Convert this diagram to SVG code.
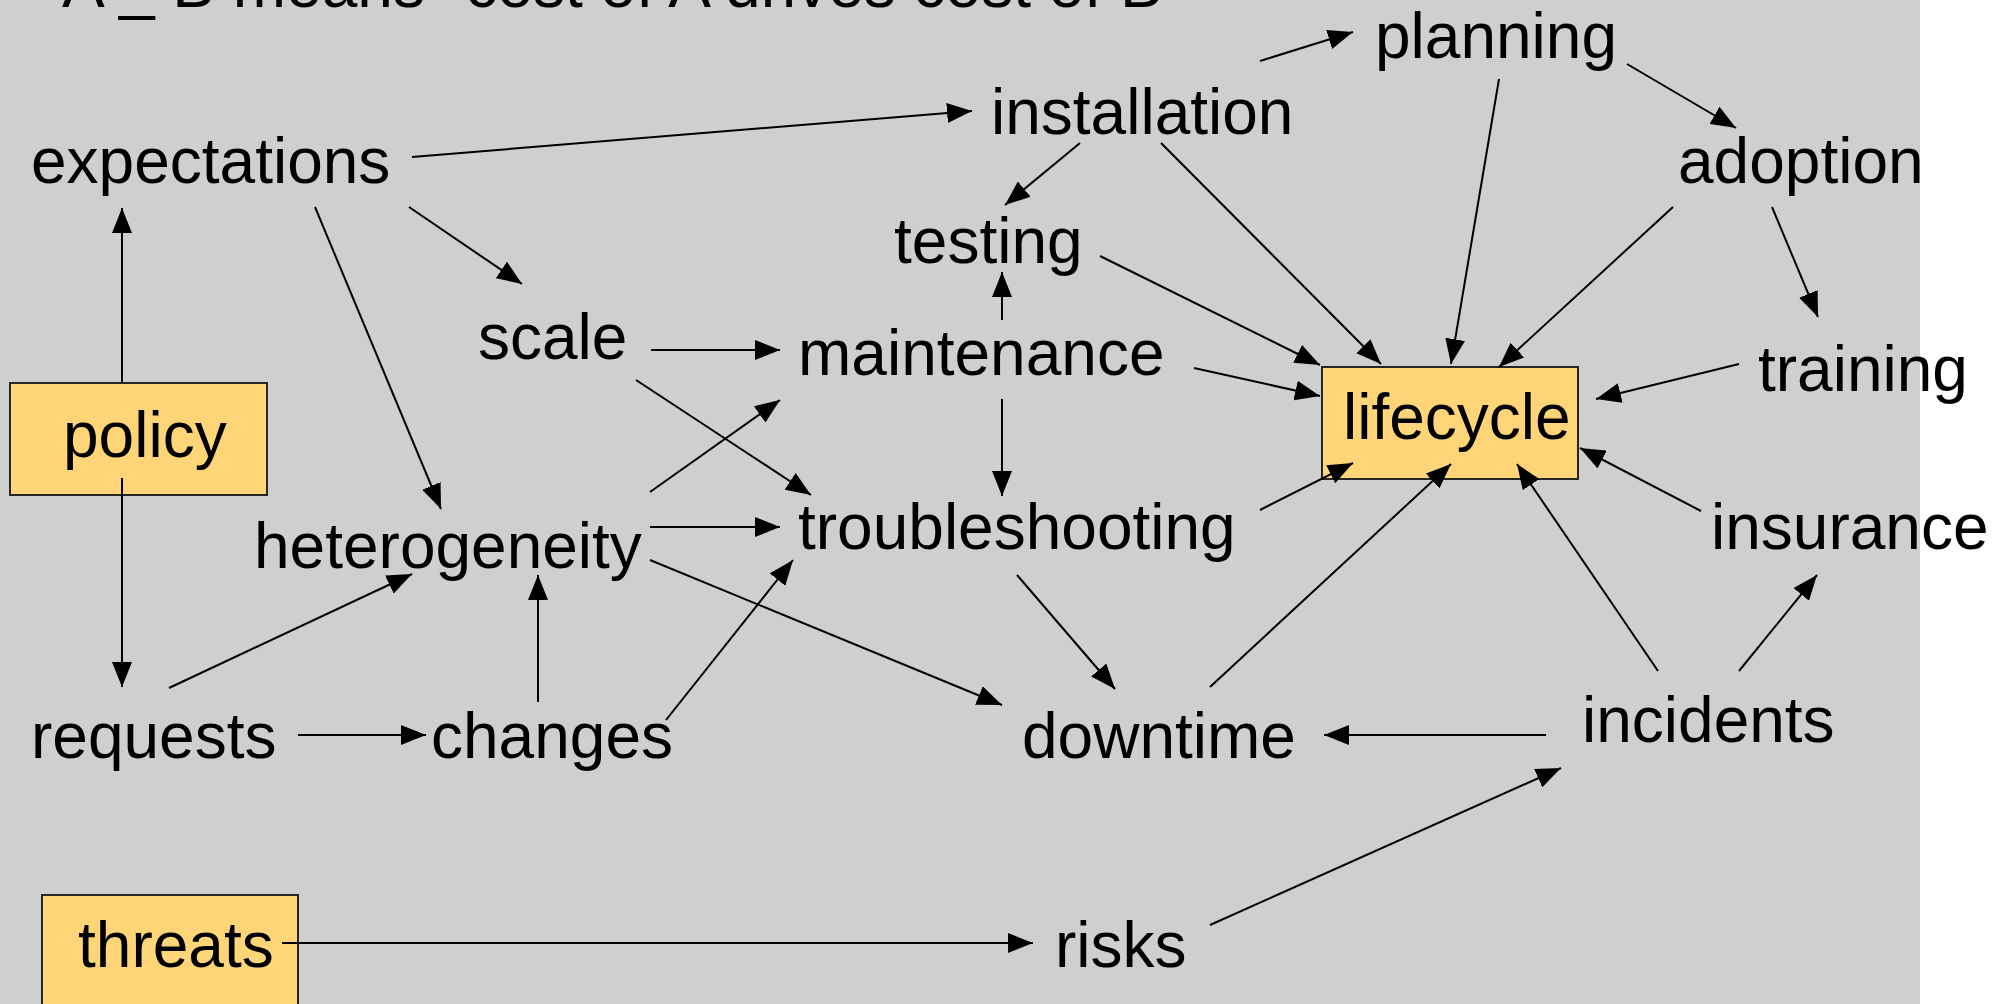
<svg xmlns="http://www.w3.org/2000/svg" width="2005" height="1004" viewBox="0 0 2005 1004">
  <style>
    text { font-family: "Liberation Sans", Arial, sans-serif; font-size: 64px; fill: #000; }
    .box { fill: #ffd577; stroke: #262626; stroke-width: 2; }
    .edge { stroke: #000; stroke-width: 2; fill: none; marker-end: url(#head); }
  </style>
  <defs>
    <marker id="head" markerUnits="userSpaceOnUse" markerWidth="25" markerHeight="20" refX="25" refY="10" orient="auto">
      <path d="M0,0 L25,10 L0,20 z" fill="#000"/>
    </marker>
  </defs>

  <!-- backdrop -->
  <rect x="0" y="0" width="2005" height="1004" fill="#ffffff"/>
  <rect x="0" y="0" width="1920" height="1004" fill="#cfcfcf"/>

  <!-- legend line across the top -->
  <text id="legend" x="62" y="7">A _ B means "cost of A drives cost of B"</text>

  <!-- boxed nodes -->
  <g id="policy">
    <rect class="box" x="10" y="383" width="257" height="112"/>
    <text x="63" y="457">policy</text>
  </g>
  <g id="lifecycle">
    <rect class="box" x="1322" y="367" width="256" height="112"/>
    <text x="1343" y="439">lifecycle</text>
  </g>
  <g id="threats">
    <rect class="box" x="42" y="895" width="256" height="120"/>
    <text x="78" y="967">threats</text>
  </g>

  <!-- plain label nodes -->
  <g id="expectations"><text x="31" y="183">expectations</text></g>
  <g id="installation"><text x="991" y="134">installation</text></g>
  <g id="planning"><text x="1375" y="58">planning</text></g>
  <g id="adoption"><text x="1678" y="183">adoption</text></g>
  <g id="testing"><text x="894" y="263">testing</text></g>
  <g id="scale"><text x="478" y="359">scale</text></g>
  <g id="maintenance"><text x="798" y="375">maintenance</text></g>
  <g id="training"><text x="1758" y="391">training</text></g>
  <g id="heterogeneity"><text x="254" y="568">heterogeneity</text></g>
  <g id="troubleshooting"><text x="798" y="549">troubleshooting</text></g>
  <g id="insurance"><text x="1711" y="549">insurance</text></g>
  <g id="requests"><text x="31" y="758">requests</text></g>
  <g id="changes"><text x="431" y="758">changes</text></g>
  <g id="downtime"><text x="1022" y="758">downtime</text></g>
  <g id="incidents"><text x="1582" y="742">incidents</text></g>
  <g id="risks"><text x="1055" y="967">risks</text></g>

  <!-- cost-driver connectors -->
  <g id="connectors">
    <line class="edge" x1="122" y1="383" x2="122" y2="208"/>
    <line class="edge" x1="122" y1="478" x2="122" y2="687"/>
    <line class="edge" x1="412" y1="157" x2="972" y2="111"/>
    <line class="edge" x1="409" y1="207" x2="522" y2="284"/>
    <line class="edge" x1="315" y1="207" x2="441" y2="509"/>
    <line class="edge" x1="1260" y1="61" x2="1353" y2="32"/>
    <line class="edge" x1="1080" y1="143" x2="1005" y2="205"/>
    <line class="edge" x1="1161" y1="143" x2="1381" y2="364"/>
    <line class="edge" x1="1499" y1="79" x2="1451" y2="364"/>
    <line class="edge" x1="1627" y1="64" x2="1736" y2="128"/>
    <line class="edge" x1="1673" y1="207" x2="1499" y2="367"/>
    <line class="edge" x1="1772" y1="207" x2="1818" y2="317"/>
    <line class="edge" x1="1100" y1="256" x2="1320" y2="365"/>
    <line class="edge" x1="1002" y1="320" x2="1002" y2="272"/>
    <line class="edge" x1="1002" y1="399" x2="1002" y2="496"/>
    <line class="edge" x1="1194" y1="368" x2="1320" y2="396"/>
    <line class="edge" x1="1739" y1="364" x2="1596" y2="399"/>
    <line class="edge" x1="651" y1="350" x2="780" y2="350"/>
    <line class="edge" x1="636" y1="380" x2="811" y2="495"/>
    <line class="edge" x1="650" y1="492" x2="780" y2="400"/>
    <line class="edge" x1="650" y1="527" x2="780" y2="527"/>
    <line class="edge" x1="650" y1="560" x2="1002" y2="705"/>
    <line class="edge" x1="1260" y1="510" x2="1353" y2="463"/>
    <line class="edge" x1="1017" y1="575" x2="1115" y2="689"/>
    <line class="edge" x1="1701" y1="511" x2="1580" y2="448"/>
    <line class="edge" x1="1658" y1="671" x2="1517" y2="464"/>
    <line class="edge" x1="1739" y1="671" x2="1817" y2="575"/>
    <line class="edge" x1="1546" y1="735" x2="1324" y2="735"/>
    <line class="edge" x1="1210" y1="687" x2="1451" y2="464"/>
    <line class="edge" x1="169" y1="688" x2="412" y2="574"/>
    <line class="edge" x1="298" y1="735" x2="426" y2="735"/>
    <line class="edge" x1="538" y1="702" x2="538" y2="575"/>
    <line class="edge" x1="666" y1="720" x2="793" y2="560"/>
    <line class="edge" x1="282" y1="943" x2="1033" y2="943"/>
    <line class="edge" x1="1210" y1="925" x2="1561" y2="768"/>
  </g>
</svg>
